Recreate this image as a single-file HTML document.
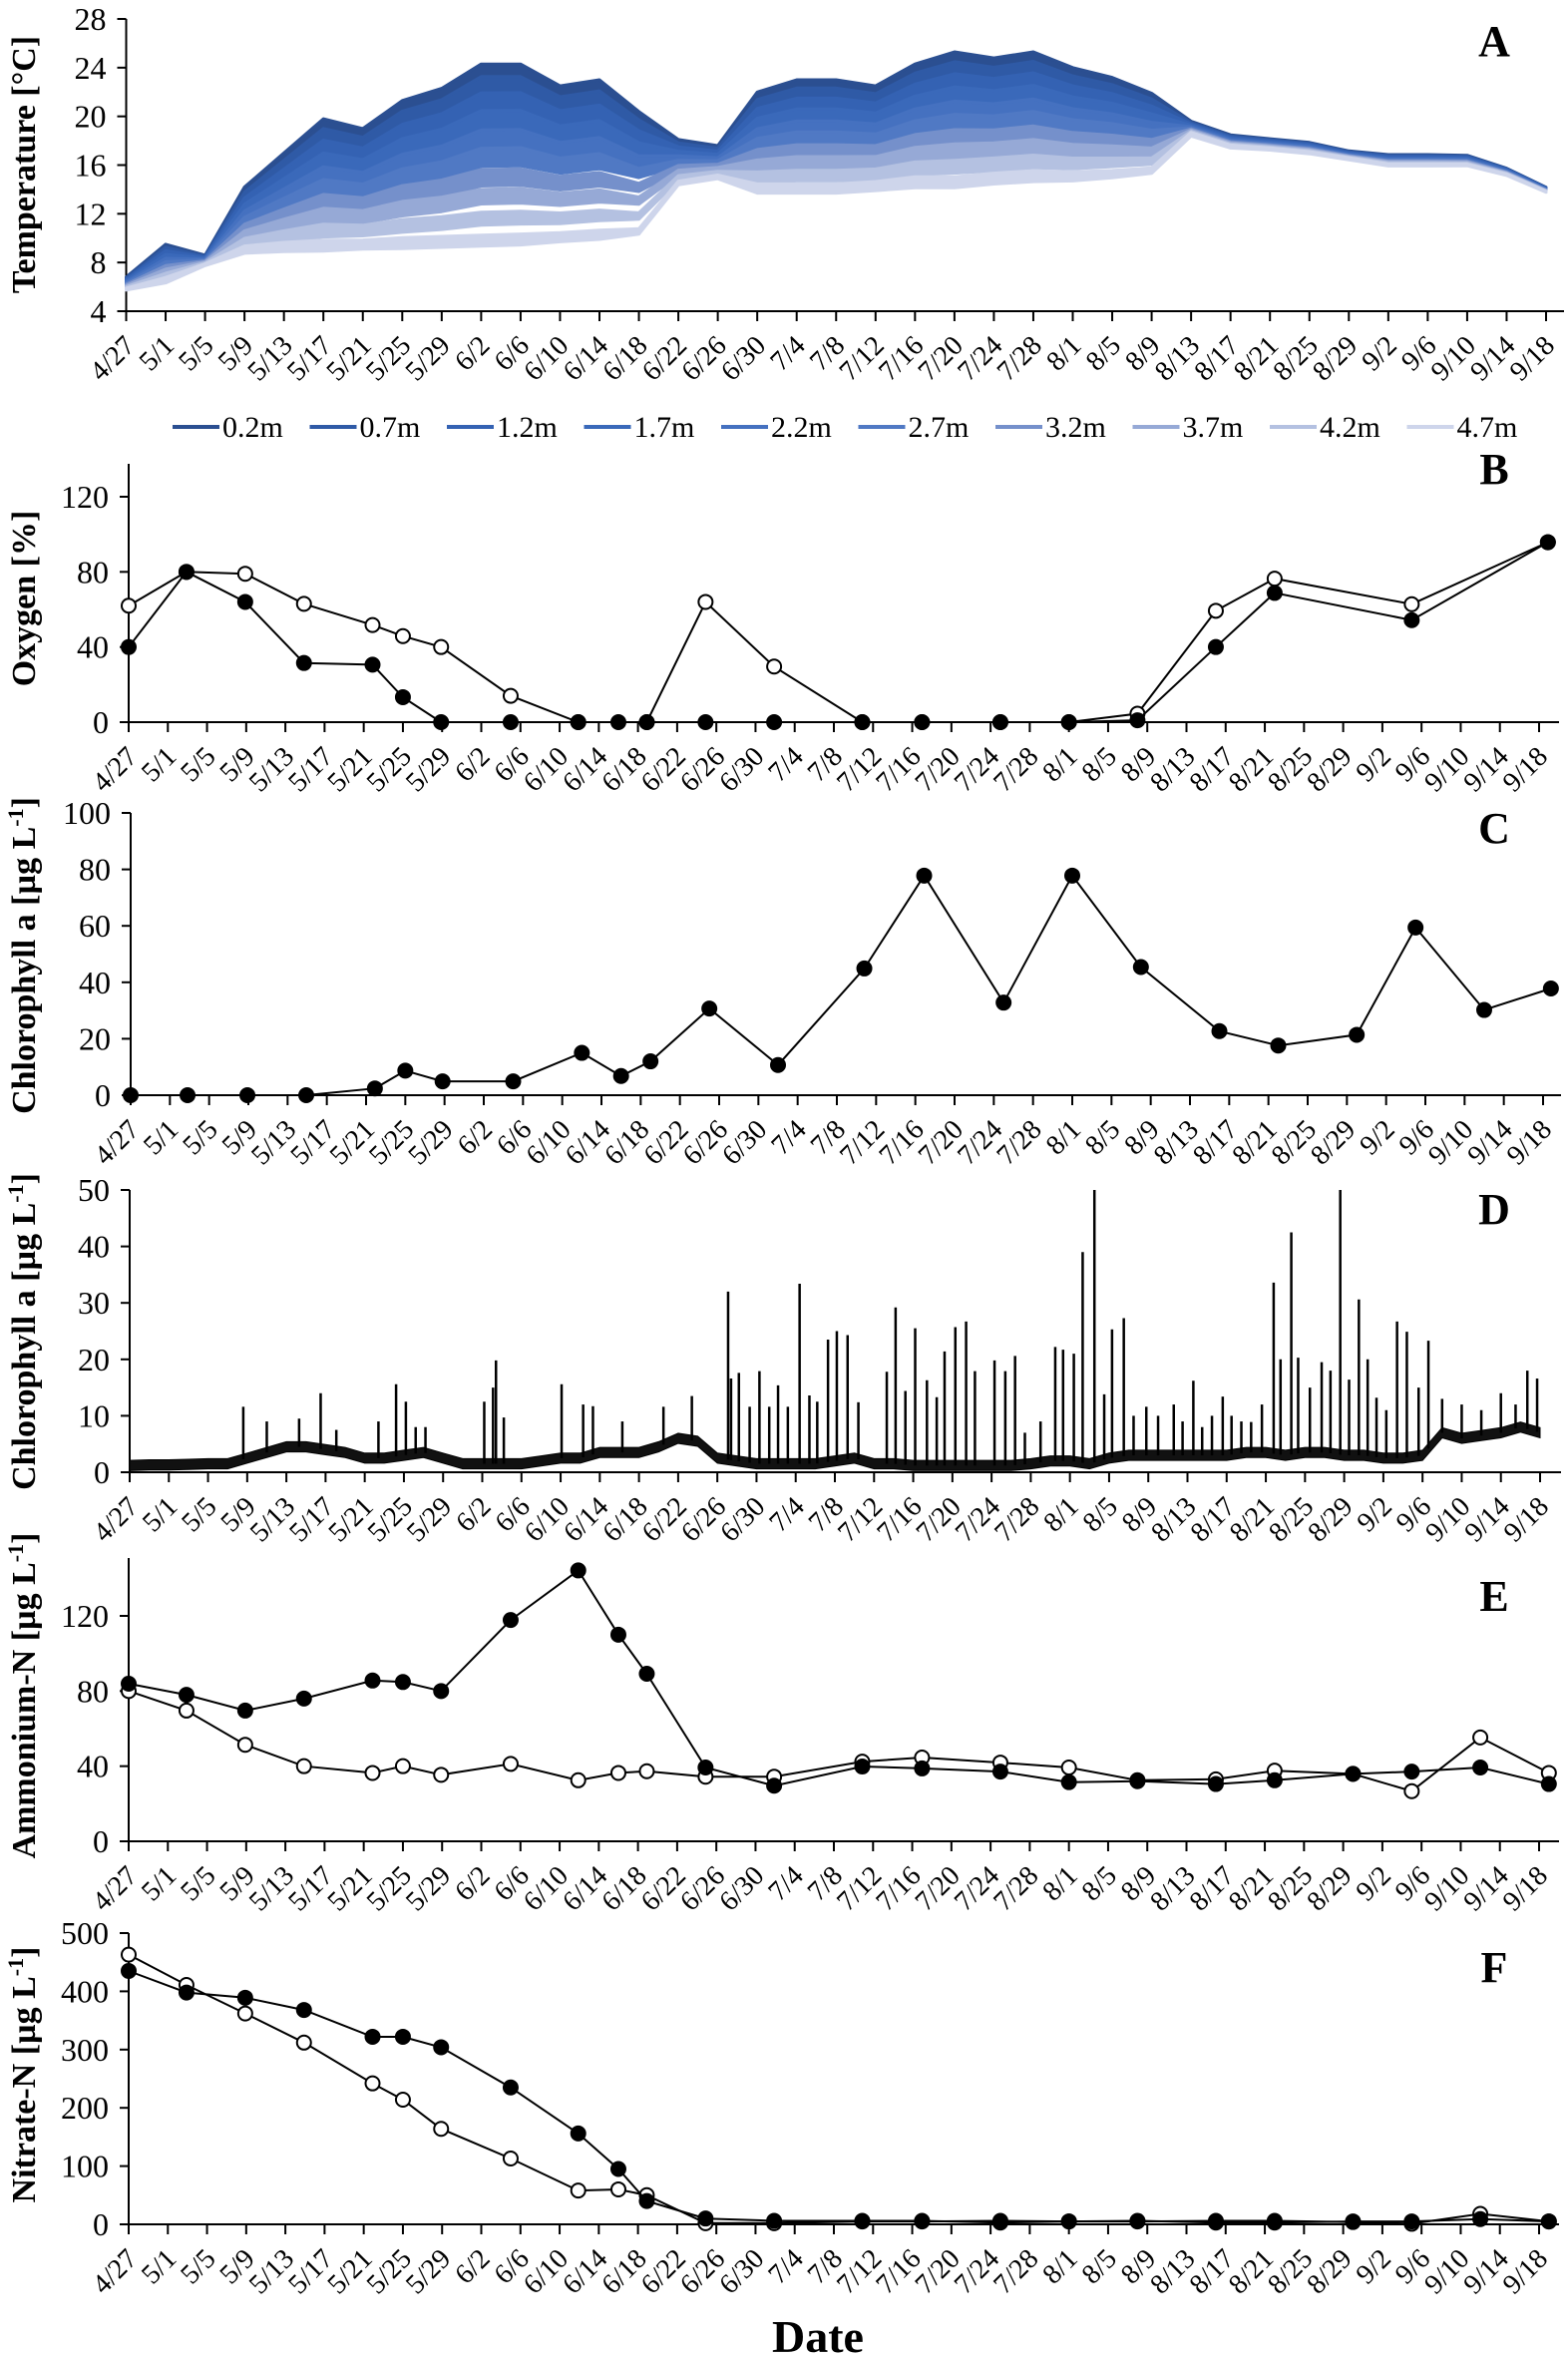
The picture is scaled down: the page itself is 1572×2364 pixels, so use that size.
<!DOCTYPE html>
<html><head><meta charset="utf-8"><title>Lake time series</title>
<style>
html,body{margin:0;padding:0;background:#fff;}
svg{display:block;font-family:"Liberation Serif","Times New Roman",serif;}
</style></head>
<body>
<svg id="fig" width="1572" height="2364" viewBox="0 0 1572 2364" xmlns="http://www.w3.org/2000/svg" font-family="Liberation Serif, Times New Roman, serif"></svg>
<script>
// ---------- shared ----------
const dateLabels = ["4/27","5/1","5/5","5/9","5/13","5/17","5/21","5/25","5/29","6/2","6/6","6/10","6/14","6/18","6/22","6/26","6/30","7/4","7/8","7/12","7/16","7/20","7/24","7/28","8/1","8/5","8/9","8/13","8/17","8/21","8/25","8/29","9/2","9/6","9/10","9/14","9/18"];

// ---------- Panel A: temperature ----------
const depthNames = ["0.2m","0.7m","1.2m","1.7m","2.2m","2.7m","3.2m","3.7m","4.2m","4.7m"];
const tempDays = [0,4,8,12,16,20,24,28,32,36,40,44,48,52,56,60,64,68,72,76,80,84,88,92,96,100,104,108,112,116,120,124,128,132,136,140,144];
const tempSurface = [6.5,8.6,8.3,13,15.5,18,17.5,19.5,20.5,22.5,22.5,21,21.5,19.5,17.5,17,20.5,21.5,21.5,21,22.5,23.5,23,23.5,22.5,22,21,19,18,17.8,17.5,16.8,16.5,16.5,16.5,15.5,14];
const tempBottom = [5.8,6.5,7.8,9,9.2,9.3,9.4,9.5,9.6,9.7,9.8,10,10.2,10.5,14.5,15,14,14,14,14.2,14.5,14.5,14.8,15,15,15.2,15.5,18.5,17.5,17.3,17,16.5,16,16,16,15.2,13.8];
const depthFraction = [0,0.06,0.15,0.25,0.36,0.47,0.6,0.72,0.86,1];
const tempSpread = [0.5,1.5,0.5,2,2.5,3,2.5,3,3,3,3,2.5,2.5,1.5,1,1,2.5,2.5,2.5,2.5,3,3,3,3,2.5,2,1.5,1,0.8,0.6,0.6,0.6,0.6,0.6,0.5,0.4,0.3];
const depthSpreadFactor = [1,0.85,0.75,0.65,0.55,0.5,0.45,0.4,0.35,0.3];
const depthColors = ["#2b4f91","#2f5aa6","#3462b3","#3a69ba","#4571c0","#5079c4","#7590cb","#96a9d6","#b4c1e1","#ced5eb"];

// ---------- Panel B: oxygen ----------
const oxyDays = [0,5.9,11.9,17.9,24.9,28,31.9,39,45.9,50,52.9,58.9,65.9,74.9,81,89,96,103,111,117,131,144.9];
const oxyFilled = [40,80,64,31.5,30.6,13.3,0,0,0,0,0,0,0,0,0,0,0,1,40,68.8,54.3,95.8];
const oxyOpenDays = [0,5.9,11.9,17.9,24.9,28,31.9,39,45.9,52.9,58.9,65.9,74.9,81,89,96,103,111,117,131,144.9];
const oxyOpen = [62,80,79,63,51.7,45.8,40,14,0,0,64,29.6,0,0,0,0,4.5,59.3,76.4,62.8,95.8];

// ---------- Panel C: chlorophyll a (discrete) ----------
const chlDays = [0,5.8,11.9,17.9,24.9,28,31.8,39,46,50,53,59,66,74.8,80.9,89,96,103,111,117,125,131,138,144.8];
const chlValues = [0,0,0,0,2.4,8.7,4.9,4.9,15,6.8,12,30.7,10.7,44.9,77.8,32.8,77.8,45.4,22.7,17.6,21.4,59.4,30.2,37.8];

// ---------- Panel D: chlorophyll a (sensor) ----------
const chlBaseDays = [0,2,4,6,8,10,12,14,16,18,20,22,24,26,28,30,32,34,36,38,40,42,44,46,48,50,52,54,56,58,60,62,64,66,68,70,72,74,76,78,80,82,84,86,88,90,92,94,96,98,100,102,104,106,108,110,112,114,116,118,120,122,124,126,128,130,132,134,136,138,140,142,144];
const chlBase = [1.2,1.3,1.3,1.4,1.5,1.5,2.5,3.5,4.5,4.5,4,3.5,2.5,2.5,3,3.5,2.5,1.5,1.5,1.5,1.5,2,2.5,2.5,3.5,3.5,3.5,4.5,6,5.5,2.5,2,1.5,1.5,1.5,1.5,2,2.5,1.5,1.5,1.2,1.2,1.2,1.2,1.2,1.2,1.5,2,2,1.5,2.5,3,3,3,3,3,3,3.5,3.5,3,3.5,3.5,3,3,2.5,2.5,3,7,6,6.5,7,8,7];
const spikeDays = [11.6,14,17.3,19.5,21.1,25.4,27.2,28.2,29.2,30.2,36.2,37.1,37.4,38.2,44.1,46.3,47.3,50.3,54.5,57.4,61.1,61.4,62.2,63.3,64.3,65.3,66.2,67.2,68.4,69.4,70.2,71.3,72.2,73.3,74.4,77.3,78.2,79.2,80.2,81.4,82.4,83.2,84.3,85.4,86.3,88.3,89.4,90.4,91.4,93,94.5,95.3,96.4,97.3,98.5,99.5,100.3,101.5,102.5,103.8,105,106.6,107.5,108.6,109.5,110.5,111.6,112.5,113.5,114.5,115.6,116.8,117.5,118.6,119.3,120.5,121.7,122.6,123.6,124.5,125.5,126.4,127.3,128.3,129.4,130.4,131.6,132.6,134,136,138,140,141.5,142.7,143.7];
const spikeValues = [11.6,9,9.5,14,7.5,9,15.6,12.5,8,8,12.5,15,19.8,9.7,15.6,12,11.7,9,11.6,13.5,32,16.6,17.6,11.6,17.9,11.6,15.4,11.6,33.4,13.6,12.5,23.5,25,24.3,12.4,17.8,29.2,14.4,25.5,16.3,13.3,21.4,25.7,26.7,17.9,19.8,17.9,20.6,7,9,22.2,21.7,21,39,50,13.8,25.3,27.3,10,11.6,10,12,9,16.2,8,10,13.4,10,9,8.9,12,33.6,20,42.5,20.3,15,19.5,18,50,16.4,30.6,20,13.2,11,26.7,24.9,15,23.3,13,12,11,14,12,18,16.6];

// ---------- Panel E: ammonium ----------
const nhDays = [0,5.9,11.9,17.9,24.9,28,31.9,39,45.9,50,52.9,58.9,65.9,74.9,81,89,96,103,111,117,125,131,138,145];
const nhFilled = [83.9,78,69.6,76,85.6,84.8,80,117.8,144.2,110,89.2,39.3,29.6,39.8,38.8,37.1,31.5,32,30.5,32.5,35.9,37.1,39.3,30.5];
const nhOpen = [80,69.6,51.4,40,36.4,40,35.4,41.2,32.5,36.4,37.3,34.4,34.4,42.4,44.6,41.9,39.3,32.5,33,37.6,35.9,26.7,55.3,36.4];

// ---------- Panel F: nitrate ----------
const noDays = [0,5.9,11.9,17.9,24.9,28,31.9,39,45.9,50,52.9,58.9,65.9,74.9,81,89,96,103,111,117,125,131,138,145];
const noFilled = [435,398,389,368,322,322,304,235,156,95,40,10,6,6,6,3,5,6,3,3,5,5,9,5];
const noOpen = [463,411,362,312,242,214,164,113,58,60,50,2,2,5,5,6,5,5,6,6,4,1,18,5];

// ---------- drawing helpers ----------
const NS = "http://www.w3.org/2000/svg";
const svg = document.getElementById("fig");
const FF = "Liberation Serif, Times New Roman, serif";
function mk(tag, attrs, parent){
  const e = document.createElementNS(NS, tag);
  for (const k in attrs) e.setAttribute(k, attrs[k]);
  if (tag === "text") e.setAttribute("font-family", FF);
  (parent||svg).appendChild(e);
  return e;
}
function panel(cfg){
  const g = mk("g", {});
  
  
  const xs = d => cfg.x0 + (cfg.x144 - cfg.x0) * d / 144;
  const ys = v => cfg.yZero + (cfg.yRef - cfg.yZero) * (v - cfg.vMin) / (cfg.vRef - cfg.vMin);
  const ax = mk("g", {}, g);
  
  
  mk("line", {x1:cfg.x0, y1:cfg.yZero, x2:cfg.xEnd, y2:cfg.yZero, stroke:"#000","stroke-width":2}, ax);
  mk("line", {x1:cfg.x0, y1:cfg.yZero, x2:cfg.x0, y2:cfg.yTop, stroke:"#000","stroke-width":2}, ax);
  cfg.yTicks.forEach(v => {
    const y = ys(v);
    mk("line", {x1:cfg.x0-9, y1:y, x2:cfg.x0, y2:y, stroke:"#000","stroke-width":2}, ax);
    const t = mk("text", {x:cfg.x0-20, y:y+11, "text-anchor":"end", "font-size":32}, ax);
    t.textContent = v;
    
    
  });
  dateLabels.forEach((lab, i) => {
    const x = xs(i*4);
    mk("line", {x1:x, y1:cfg.yZero, x2:x, y2:cfg.yZero+10, stroke:"#000","stroke-width":2}, ax);
    const t = mk("text", {x:0, y:0, "text-anchor":"end", "font-size":28,
      transform:`translate(${x+10},${cfg.yZero+36}) rotate(-45)`}, ax);
    t.textContent = lab;
    
    
  });
  const yt = mk("text", {x:0, y:0, "text-anchor":"middle", "font-size":34, "font-weight":"bold",
    transform:`translate(35,${cfg.titleY}) rotate(-90)`}, g);
  
  
  if (cfg.unit) {
    yt.appendChild(document.createTextNode(cfg.title + " [µg L"));
    const s = mk("tspan", {"baseline-shift":"super","font-size":22}, yt); s.textContent = "-1";
    yt.appendChild(document.createTextNode("]"));
  } else yt.textContent = cfg.title;
  const L = mk("text", {x:1498, y:cfg.letterY, "text-anchor":"middle", "font-size":44, "font-weight":"bold"}, g);
  L.textContent = cfg.letter;
  
  
  return {g, xs, ys};
}
function series(p, days, vals, filled, name){
  const gg = mk("g", {}, p.g);
  
  
  const pts = days.map((d,i) => p.xs(d).toFixed(1)+","+p.ys(vals[i]).toFixed(1)).join(" ");
  mk("polyline", {points:pts, fill:"none", stroke:"#000", "stroke-width":2}, gg);
  days.forEach((d,i) => {
    const c = mk("circle", {cx:p.xs(d), cy:p.ys(vals[i]), r:7, fill: filled ? "#000" : "#fff", stroke:"#000", "stroke-width":2}, gg);
    
    
  });
}

// ---------- Panel A ----------
const pA = panel({name:"temperature-panel", x0:126.5, x144:1550, xEnd:1568, yZero:312, vMin:4, yRef:19, vRef:28, yTop:19,
  yTicks:[4,8,12,16,20,24,28], title:"Temperature [°C]", titleY:165, letter:"A", letterY:56});
depthNames.forEach((nm, k) => {
  const means = tempDays.map((d,i) => tempSurface[i] - depthFraction[k]*(tempSurface[i]-tempBottom[i]));
  const up = tempDays.map((d,i) => pA.xs(d).toFixed(1)+","+pA.ys(means[i] + tempSpread[i]*depthSpreadFactor[k]*0.6).toFixed(1));
  const lo = tempDays.map((d,i) => pA.xs(d).toFixed(1)+","+pA.ys(means[i] - tempSpread[i]*depthSpreadFactor[k]*0.4).toFixed(1)).reverse();
  const poly = mk("polygon", {points: up.concat(lo).join(" "), fill:depthColors[k], stroke:depthColors[k], "stroke-width":3, "stroke-linejoin":"round"}, pA.g);
  
  
});
const leg = mk("g", {});


depthNames.forEach((nm, k) => {
  const x = 173 + k*137.5;
  const e = mk("g", {}, leg);
  
  
  mk("line", {x1:x, y1:428, x2:x+47, y2:428, stroke:depthColors[k], "stroke-width":4}, e);
  const t = mk("text", {x:x+50, y:438, "font-size":30}, e); t.textContent = nm;
});

// ---------- Panel B ----------
const pB = panel({name:"oxygen-panel", x0:129, x144:1543, xEnd:1563, yZero:724, vMin:0, yRef:498, vRef:120, yTop:465,
  yTicks:[0,40,80,120], title:"Oxygen [%]", titleY:600, letter:"B", letterY:485});
series(pB, oxyOpenDays, oxyOpen, false, "oxygen-open-series");
series(pB, oxyDays, oxyFilled, true, "oxygen-filled-series");

// ---------- Panel C ----------
const pC = panel({name:"chlorophyll-discrete-panel", x0:131, x144:1547, xEnd:1565, yZero:1098, vMin:0, yRef:815, vRef:100, yTop:815,
  yTicks:[0,20,40,60,80,100], title:"Chlorophyll a", unit:true, titleY:958, letter:"C", letterY:845});
series(pC, chlDays, chlValues, true, "chlorophyll-series");

// ---------- Panel D ----------
const pD = panel({name:"chlorophyll-sensor-panel", x0:130, x144:1544, xEnd:1565, yZero:1476, vMin:0, yRef:1193, vRef:50, yTop:1193,
  yTicks:[0,10,20,30,40,50], title:"Chlorophyll a", unit:true, titleY:1335, letter:"D", letterY:1227});
function baseAt(d){
  for (let i=0;i<chlBaseDays.length-1;i++){
    if (d>=chlBaseDays[i] && d<=chlBaseDays[i+1]){
      const t=(d-chlBaseDays[i])/(chlBaseDays[i+1]-chlBaseDays[i]);
      return chlBase[i]*(1-t)+chlBase[i+1]*t;
    }
  }
  return chlBase[chlBase.length-1];
}
{
  const up = chlBaseDays.map((d,i)=>pD.xs(d).toFixed(1)+","+pD.ys(chlBase[i]+0.9).toFixed(1));
  const lo = chlBaseDays.map((d,i)=>pD.xs(d).toFixed(1)+","+pD.ys(Math.max(0.2,chlBase[i]-0.9)).toFixed(1)).reverse();
  const band = mk("polygon", {points:up.concat(lo).join(" "), fill:"#111", stroke:"#000","stroke-width":1}, pD.g);
  
  
  spikeDays.forEach((d,i)=>{
    const l = mk("line", {x1:pD.xs(d), y1:pD.ys(baseAt(d)), x2:pD.xs(d), y2:pD.ys(spikeValues[i]), stroke:"#000","stroke-width":2.5}, pD.g);
    
    
  });
}

// ---------- Panel E ----------
const pE = panel({name:"ammonium-panel", x0:129, x144:1543, xEnd:1563, yZero:1846, vMin:0, yRef:1620, vRef:120, yTop:1562,
  yTicks:[0,40,80,120], title:"Ammonium-N", unit:true, titleY:1700, letter:"E", letterY:1615});
series(pE, nhDays, nhOpen, false, "ammonium-open-series");
series(pE, nhDays, nhFilled, true, "ammonium-filled-series");

// ---------- Panel F ----------
const pF = panel({name:"nitrate-panel", x0:129, x144:1543, xEnd:1563, yZero:2230, vMin:0, yRef:1938, vRef:500, yTop:1938,
  yTicks:[0,100,200,300,400,500], title:"Nitrate-N", unit:true, titleY:2080, letter:"F", letterY:1987});
series(pF, noDays, noOpen, false, "nitrate-open-series");
series(pF, noDays, noFilled, true, "nitrate-filled-series");

const xt = mk("text", {x:820, y:2358, "text-anchor":"middle", "font-size":46, "font-weight":"bold"});
xt.textContent = "Date";


</script>
</body></html>
